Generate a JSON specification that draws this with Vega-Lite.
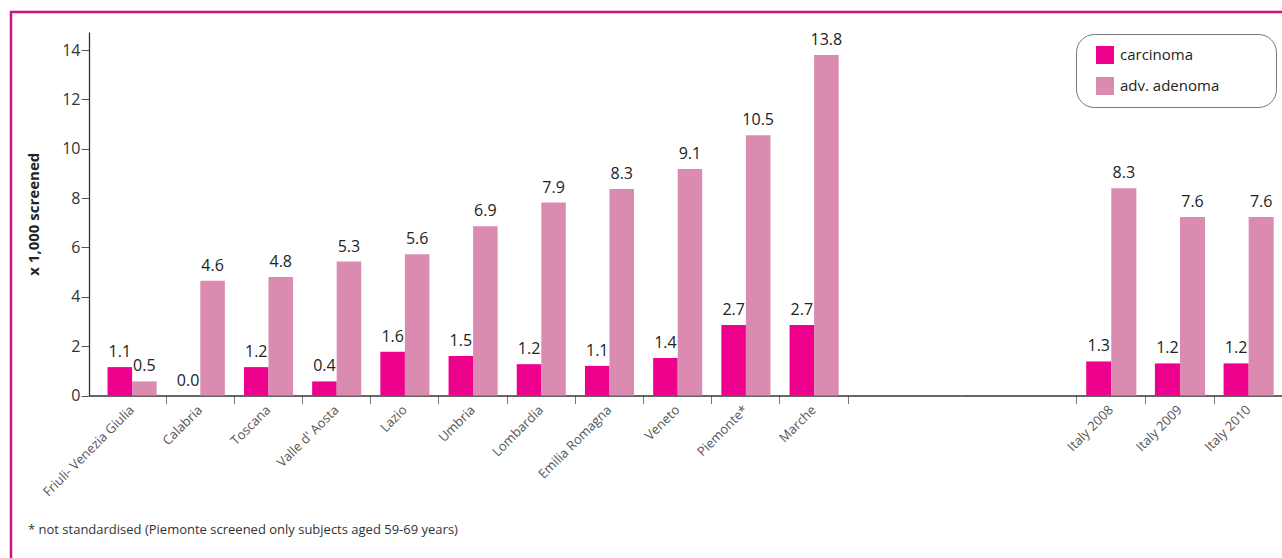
{
  "$schema": "https://vega.github.io/schema/vega-lite/v6.json",
  "width": 1276,
  "height": 551,
  "padding": {"left": 11, "top": 12, "right": 0, "bottom": 0},
  "autosize": {"type": "pad"},
  "title": {
    "text": "* not standardised (Piemonte screened only subjects aged 59-69 years)",
    "orient": "bottom", "anchor": "start", "frame": "group",
    "offset": -39, "dx": 17, "fontSize": 13, "fontWeight": "normal", "color": "#333", "font": "Open Sans"
  },
  "config": {
    "view": {"stroke": "#C8147E", "strokeWidth": 2.5},
    "font": "Open Sans"
  },
  "data": {
    "values": [
      {"group": "regions", "region": "Friuli- Venezia Giulia", "type": "carcinoma", "value": 1.15, "label": "1.1"},
      {"group": "regions", "region": "Friuli- Venezia Giulia", "type": "adv. adenoma", "value": 0.57, "label": "0.5"},
      {"group": "regions", "region": "Calabria", "type": "carcinoma", "value": 0, "label": "0.0"},
      {"group": "regions", "region": "Calabria", "type": "adv. adenoma", "value": 4.65, "label": "4.6"},
      {"group": "regions", "region": "Toscana", "type": "carcinoma", "value": 1.15, "label": "1.2"},
      {"group": "regions", "region": "Toscana", "type": "adv. adenoma", "value": 4.8, "label": "4.8"},
      {"group": "regions", "region": "Valle d' Aosta", "type": "carcinoma", "value": 0.57, "label": "0.4"},
      {"group": "regions", "region": "Valle d' Aosta", "type": "adv. adenoma", "value": 5.43, "label": "5.3"},
      {"group": "regions", "region": "Lazio", "type": "carcinoma", "value": 1.77, "label": "1.6"},
      {"group": "regions", "region": "Lazio", "type": "adv. adenoma", "value": 5.72, "label": "5.6"},
      {"group": "regions", "region": "Umbria", "type": "carcinoma", "value": 1.6, "label": "1.5"},
      {"group": "regions", "region": "Umbria", "type": "adv. adenoma", "value": 6.86, "label": "6.9"},
      {"group": "regions", "region": "Lombardia", "type": "carcinoma", "value": 1.27, "label": "1.2"},
      {"group": "regions", "region": "Lombardia", "type": "adv. adenoma", "value": 7.82, "label": "7.9"},
      {"group": "regions", "region": "Emilia Romagna", "type": "carcinoma", "value": 1.2, "label": "1.1"},
      {"group": "regions", "region": "Emilia Romagna", "type": "adv. adenoma", "value": 8.37, "label": "8.3"},
      {"group": "regions", "region": "Veneto", "type": "carcinoma", "value": 1.52, "label": "1.4"},
      {"group": "regions", "region": "Veneto", "type": "adv. adenoma", "value": 9.18, "label": "9.1"},
      {"group": "regions", "region": "Piemonte*", "type": "carcinoma", "value": 2.86, "label": "2.7"},
      {"group": "regions", "region": "Piemonte*", "type": "adv. adenoma", "value": 10.55, "label": "10.5"},
      {"group": "regions", "region": "Marche", "type": "carcinoma", "value": 2.86, "label": "2.7"},
      {"group": "regions", "region": "Marche", "type": "adv. adenoma", "value": 13.8, "label": "13.8"},
      {"group": "italy", "region": "Italy 2008", "type": "carcinoma", "value": 1.38, "label": "1.3"},
      {"group": "italy", "region": "Italy 2008", "type": "adv. adenoma", "value": 8.4, "label": "8.3"},
      {"group": "italy", "region": "Italy 2009", "type": "carcinoma", "value": 1.3, "label": "1.2"},
      {"group": "italy", "region": "Italy 2009", "type": "adv. adenoma", "value": 7.23, "label": "7.6"},
      {"group": "italy", "region": "Italy 2010", "type": "carcinoma", "value": 1.3, "label": "1.2"},
      {"group": "italy", "region": "Italy 2010", "type": "adv. adenoma", "value": 7.23, "label": "7.6"}
    ]
  },
  "layer": [
    {
      "transform": [{"filter": "datum.group === 'regions'"}],
      "encoding": {
        "x": {
          "field": "region", "type": "nominal", "sort": null,
          "scale": {"range": [78, 950], "paddingInner": 0, "paddingOuter": 0.893, "align": 0.0739},
          "axis": {
            "title": null, "orient": "bottom", "offset": -167.5, "bandPosition": 1,
            "labelAngle": -45, "labelAlign": "right", "labelBaseline": "middle",
            "labelFontSize": 13, "labelColor": "#555", "labelPadding": 4,
            "tickSize": 8, "tickColor": "#777", "domainColor": "#333", "domainWidth": 1.3
          }
        },
        "xOffset": {
          "field": "type", "type": "nominal",
          "scale": {"domain": ["carcinoma", "adv. adenoma"], "paddingOuter": 0.39, "paddingInner": 0}
        },
        "y": {
          "field": "value", "type": "quantitative",
          "scale": {"domain": [0, 14.73], "range": [383.5, 20], "nice": false},
          "axis": {
            "title": "x 1,000 screened", "offset": -78, "values": [0, 2, 4, 6, 8, 10, 12, 14],
            "grid": false, "tickSize": 8, "labelPadding": 1, "labelFontSize": 16, "labelColor": "#333",
            "titleFontSize": 15, "titleFontWeight": "bold", "titleColor": "#222", "titlePadding": 20,
            "domainColor": "#333", "domainWidth": 1.3, "tickColor": "#555"
          }
        }
      },
      "layer": [
        {
          "mark": {"type": "bar"},
          "encoding": {
            "color": {
              "field": "type", "type": "nominal",
              "scale": {"domain": ["carcinoma", "adv. adenoma"], "range": ["#EC008C", "#DB8AB0"]},
              "legend": {
                "title": null, "orient": "none", "legendX": 1065, "legendY": 22,
                "symbolType": "square", "symbolSize": 324, "symbolStrokeWidth": 0,
                "symbolOffset": 8, "padding": 12, "rowPadding": 13, "labelOffset": 6,
                "labelFontSize": 15, "labelColor": "#222", "labelLimit": 300,
                "labelExpr": "datum.label + '\u2800\u2800\u2800\u2800'",
                "strokeColor": "#777", "cornerRadius": 18, "fillColor": "white"
              }
            }
          }
        },
        {
          "mark": {"type": "text", "dy": -10, "baseline": "alphabetic", "fontSize": 16, "color": "#222"},
          "encoding": {"text": {"field": "label"}}
        }
      ]
    },
    {
      "transform": [{"filter": "datum.group === 'italy'"}],
      "encoding": {
        "x": {
          "field": "region", "type": "nominal", "sort": null,
          "scale": {"range": [950, 1272], "paddingInner": 0, "paddingOuter": 0.844, "align": 1},
          "axis": {
            "title": null, "orient": "bottom", "offset": -167.5, "bandPosition": 0,
            "labelAngle": -45, "labelAlign": "right", "labelBaseline": "middle",
            "labelFontSize": 13, "labelColor": "#555", "labelPadding": 4,
            "tickSize": 8, "tickColor": "#777", "domainColor": "#333", "domainWidth": 1.3
          }
        },
        "xOffset": {
          "field": "type", "type": "nominal",
          "scale": {"domain": ["carcinoma", "adv. adenoma"], "paddingOuter": 0.37, "paddingInner": 0}
        },
        "y": {
          "field": "value", "type": "quantitative",
          "scale": {"domain": [0, 14.73], "range": [383.5, 20], "nice": false},
          "axis": {
            "title": "x 1,000 screened", "offset": -78, "values": [0, 2, 4, 6, 8, 10, 12, 14],
            "grid": false, "tickSize": 8, "labelPadding": 1, "labelFontSize": 16, "labelColor": "#333",
            "titleFontSize": 15, "titleFontWeight": "bold", "titleColor": "#222", "titlePadding": 20,
            "domainColor": "#333", "domainWidth": 1.3, "tickColor": "#555"
          }
        }
      },
      "layer": [
        {
          "mark": {"type": "bar"},
          "encoding": {
            "color": {
              "field": "type", "type": "nominal",
              "scale": {"domain": ["carcinoma", "adv. adenoma"], "range": ["#EC008C", "#DB8AB0"]},
              "legend": {
                "title": null, "orient": "none", "legendX": 1065, "legendY": 22,
                "symbolType": "square", "symbolSize": 324, "symbolStrokeWidth": 0,
                "symbolOffset": 8, "padding": 12, "rowPadding": 13, "labelOffset": 6,
                "labelFontSize": 15, "labelColor": "#222", "labelLimit": 300,
                "labelExpr": "datum.label + '\u2800\u2800\u2800\u2800'",
                "strokeColor": "#777", "cornerRadius": 18, "fillColor": "white"
              }
            }
          }
        },
        {
          "mark": {"type": "text", "dy": -10, "baseline": "alphabetic", "fontSize": 16, "color": "#222"},
          "encoding": {"text": {"field": "label"}}
        }
      ]
    }
  ],
  "resolve": {"scale": {"x": "independent", "xOffset": "independent"}, "axis": {"x": "independent"}}
}
